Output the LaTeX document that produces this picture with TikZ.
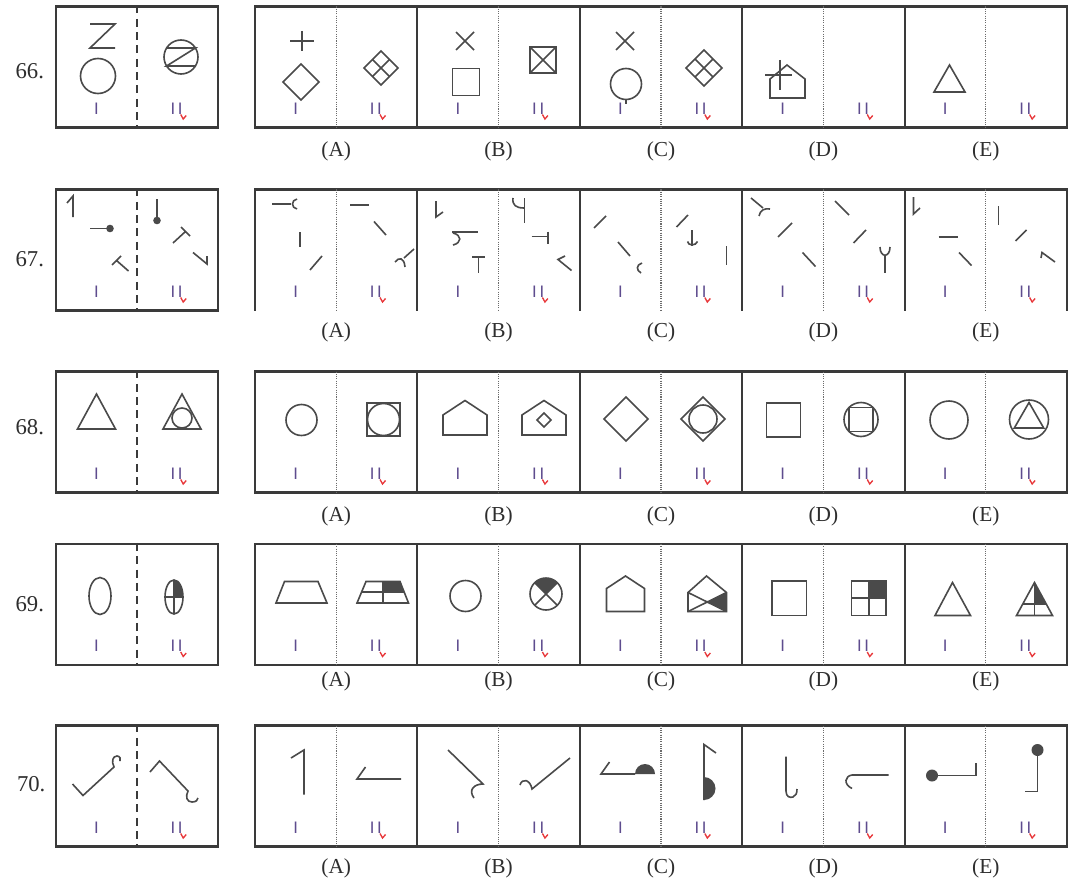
\documentclass[tikz,border=0pt]{standalone}
\usepackage{fontspec}
\setmainfont{Liberation Serif}
\setsansfont{Liberation Sans}
\usepackage{tikz}
\usetikzlibrary{positioning}
\definecolor{cFrame}{HTML}{3A3A3A}
\definecolor{cFig}{HTML}{4A4A4A}
\definecolor{cGray}{HTML}{6B6B6B}
\definecolor{cText}{HTML}{2E2E2E}
\definecolor{cLab}{HTML}{5E4C8E}
\definecolor{cRed}{HTML}{E8373A}
\tikzset{
  qbox/.style={
    rectangle, draw=cFrame, line width=1.6pt,
    minimum width=121.5pt, minimum height=90.75pt, inner sep=0pt
  },
  rowframe/.style={draw=cFrame, line width=1.6pt},
  divider/.style={draw=cGray, line width=0.8pt, dash pattern=on 0.8pt off 0.9pt},
  qdash/.style={draw=cFrame, line width=1.9pt, dash pattern=on 6pt off 4pt},
  fig/.style={draw=cFig, line width=1.2pt},
  numlabel/.style={font=\fontsize{17}{19}\selectfont, text=cText, inner sep=0pt},
  optlabel/.style={font=\fontsize{16}{18}\selectfont, text=cText, inner sep=0pt},
  labI/.style={font=\sffamily\fontsize{12.5}{13}\selectfont, text=cLab, inner sep=0pt},
  tick/.style={draw=cRed, line width=1pt},
}

\begin{document}
\begin{tikzpicture}[x=0.75pt, y=-0.75pt]
  \useasboundingbox[fill=white] (0,0) rectangle (1074,888);

  % Question boxes
  \node[qbox] (q66) at (137,67) {};
  \node[qbox] (q67) at (137,250) {};
  \node[qbox] (q68) at (137,432) {};
  \node[qbox] (q69) at (137,604.5) {};
  \node[qbox] (q70) at (137,786) {};
  \draw[qdash] (q66.north) -- (q66.south);
  \draw[qdash] (q67.north) -- (q67.south);
  \draw[qdash] (q68.north) -- (q68.south);
  \draw[qdash] (q69.north) -- (q69.south);
  \draw[qdash] (q70.north) -- (q70.south);

  % Question numbers
  \node[numlabel, left=8pt of q66, yshift=-3pt] (n66) {66.};
  \node[numlabel, left=8pt of q67, yshift=-6.5pt] (n67) {67.};
  \node[numlabel, left=8pt of q68, yshift=3.5pt] (n68) {68.};
  \node[numlabel, left=8pt of q69] (n69) {69.};
  \node[numlabel, left=7pt of q70, yshift=1.5pt] (n70) {70.};

  % Answer rows (row 67 is open at the bottom)
  \draw[rowframe] (255,6.5) rectangle (1067,127.5);
  \draw[rowframe] (255,310.5) -- (255,189.5) -- (1067,189.5) -- (1067,310.5);
  \draw[rowframe] (255,371.5) rectangle (1067,492.5);
  \draw[rowframe] (255,544) rectangle (1067,665);
  \draw[rowframe] (255,725.5) rectangle (1067,846.5);

  \foreach \r/\yt/\yb/\yl in {66/6.5/127.5/151, 67/189.5/310.5/332,
      68/371.5/492.5/516, 69/544/665/681.5, 70/725.5/846.5/868} {
    \foreach \x in {417.4,579.8,742.2,904.6}
      \draw[rowframe] (\x,\yt) -- (\x,\yb);
    \foreach \x in {336.2,498.6,661,823.4,985.8}
      \draw[divider] (\x,\yt) -- (\x,\yb);
    \foreach \l [count=\k] in {A,B,C,D,E}
      \node[optlabel] (opt\r\l) at ({336.2+162.4*(\k-1)},\yl) {(\l)};
    % I / II marks
    \node[labI] (i\r-q) at (96.5,\yb-19) {I};
    \node[labI] (ii\r-q) at (176.5,\yb-19) {I\kern2pt I};
    \draw[tick] ([xshift=-1.5pt]ii\r-q.south east) -- ++(2.5,4.5) -- ++(3,-3.5);
    \foreach \l [count=\k] in {A,B,C,D,E} {
      \node[labI] (i\r\l) at ({295.6+162.4*(\k-1)},\yb-19) {I};
      \node[labI] (ii\r\l) at ({375.8+162.4*(\k-1)},\yb-19) {I\kern2pt I};
      \draw[tick] ([xshift=-1.5pt]ii\r\l.south east) -- ++(2.5,4.5) -- ++(3,-3.5);
    }
  }

  % ---- 66 ----
  \draw[fig] (90,24) -- (115,24) -- (90,48) -- (115,48);
  \draw[fig] (98,76) circle (17.5);
  \draw[fig] (181,57) circle (17);
  \draw[fig] (166.6,48) -- (195.4,48) -- (166.6,66) -- (195.4,66);
  % (A)
  \draw[fig] (290,41) -- (314,41) (302,31) -- (302,51);
  \draw[fig] (301,64) -- (319,82) -- (301,100) -- (283,82) -- cycle;
  \draw[fig] (381,51) -- (398,68) -- (381,85) -- (364,68) -- cycle;
  \draw[fig] (372.5,59.5) -- (389.5,76.5) (389.5,59.5) -- (372.5,76.5);
  % (B)
  \draw[fig] (456,32) -- (474,50) (474,32) -- (456,50);
  \draw[fig] (452.5,68.5) rectangle (479.5,95.5);
  \draw[fig] (530,47) rectangle (556,73);
  \draw[fig] (530,47) -- (556,73) (556,47) -- (530,73);
  % (C)
  \draw[fig] (616,32) -- (634,50) (634,32) -- (616,50);
  \draw[fig] (626,84) circle (15.5);
  \draw[fig] (626,99.5) -- (626,104);
  \draw[fig] (704,50) -- (722,68) -- (704,86) -- (686,68) -- cycle;
  \draw[fig] (695,59) -- (713,77) (713,59) -- (695,77);
  % (D)
  \draw[fig] (770,98) -- (770,79) -- (787,65) -- (805,79) -- (805,98) -- cycle;
  \draw[fig] (765,75) -- (792,75) (780,60) -- (780,90);
  % (E)
  \draw[fig] (949.5,65) -- (965,92) -- (934,92) -- cycle;

  % ---- 67 ----
  \draw[fig] (67,203) -- (73,196) -- (73,217);
  \draw[fig] (90,228.5) -- (110,228.5);
  \fill[cFig] (110,228.5) circle (3.8);
  \draw[fig] (112,265) -- (121,256) (116.5,260.5) -- (128.5,271);
  \draw[fig] (157,199) -- (157,220.5);
  \fill[cFig] (157,220.5) circle (3.8);
  \draw[fig] (181,227) -- (190,236) (185.5,231.5) -- (173,243);
  \draw[fig] (193,252.5) -- (207,264) -- (207,256);
  % (A)
  \draw[fig] (272,204) -- (291,204);
  \draw[fig] (297,199) .. controls (291,200) and (291,208) .. (297,209);
  \draw[fig] (300,232) -- (300,247);
  \draw[fig] (310,270) -- (322,256);
  \draw[fig] (350,205) -- (369,205);
  \draw[fig] (374,221.5) -- (386,235);
  \draw[fig] (414,249) -- (404,258);
  \draw[fig] (395,262) .. controls (399,257) and (404,257) .. (405,267);
  % (B)
  \draw[fig] (436,201) -- (436,217) -- (443,212);
  \draw[fig] (452,232) -- (478,232);
  \draw[fig] (453,233) .. controls (462,235) and (462,243) .. (453,245);
  \draw[fig] (472,257) -- (485,257) (478.5,257) -- (478.5,273);
  \draw[fig] (513,198) .. controls (512,205) and (516,208) .. (524,208);
  \draw[fig] (524.5,198) -- (524.5,223);
  \draw[fig] (531.5,236.5) -- (548,236.5) (548,231.5) -- (548,243.5);
  \draw[fig] (565,256) -- (558,259.5) -- (571.5,270.5);
  % (C)
  \draw[fig] (594,228) -- (606,216);
  \draw[fig] (618,242) -- (630,256);
  \draw[fig] (642,263) .. controls (636,265) and (636,270) .. (641,273);
  \draw[fig] (676.5,227) -- (688,215);
  \draw[fig] (692,230) -- (692,246);
  \draw[fig] (687.5,241.5) .. controls (688,246) and (696,246) .. (697.5,241.5);
  \draw[fig] (726.5,246) -- (726.5,265);
  % (D)
  \draw[fig] (751,198) -- (763,208);
  \draw[fig] (759,216) .. controls (760,210) and (765,208) .. (770,209);
  \draw[fig] (778,237) -- (792,223);
  \draw[fig] (802.5,252.5) -- (815.5,266.5);
  \draw[fig] (835,201) -- (849,215);
  \draw[fig] (853.5,243) -- (866,230);
  \draw[fig] (880,247) .. controls (880,258) and (890,258) .. (890,247);
  \draw[fig] (885,256) -- (885,273);
  % (E)
  \draw[fig] (913.5,197) -- (913.5,214) -- (920,208);
  \draw[fig] (938.5,237) -- (958,237);
  \draw[fig] (959,252.5) -- (971.5,265.5);
  \draw[fig] (998.5,206) -- (998.5,225);
  \draw[fig] (1015.5,241) -- (1026.5,230);
  \draw[fig] (1041,258) -- (1042,252.5) -- (1055,262);

  % ---- 68 ----
  \draw[fig] (96.5,394) -- (115.5,429) -- (77.5,429) -- cycle;
  \draw[fig] (182,394) -- (201,429) -- (163,429) -- cycle;
  \draw[fig] (182,418) circle (10);
  % (A)
  \draw[fig] (301.5,420) circle (15.5);
  \draw[fig] (367,403) rectangle (400,436);
  \draw[fig] (383.5,419.5) circle (16);
  % (B)
  \draw[fig] (443,435) -- (443,415) -- (465,400.5) -- (487,415) -- (487,435) -- cycle;
  \draw[fig] (522,435) -- (522,415) -- (544,400.5) -- (566,415) -- (566,435) -- cycle;
  \draw[fig] (544,413) -- (551,420) -- (544,427) -- (537,420) -- cycle;
  % (C)
  \draw[fig] (626,397) -- (648,419) -- (626,441) -- (604,419) -- cycle;
  \draw[fig] (703,397) -- (725,419) -- (703,441) -- (681,419) -- cycle;
  \draw[fig] (703,419) circle (14);
  % (D)
  \draw[fig] (766.5,403) rectangle (800.5,437);
  \draw[fig] (861,419.5) circle (17);
  \draw[fig] (849,407.5) rectangle (873,431.5);
  % (E)
  \draw[fig] (949,420) circle (19);
  \draw[fig] (1029,419.5) circle (19.5);
  \draw[fig] (1029,402.5) -- (1043.7,428) -- (1014.3,428) -- cycle;

  % ---- 69 ----
  \draw[fig] (100,596) ellipse (11 and 18.5);
  \fill[cFig] (174,597) -- (183,597) arc[start angle=0, end angle=-90, x radius=9, y radius=17] -- cycle;
  \draw[fig] (174,597) ellipse (9 and 17);
  \draw[fig] (165,597) -- (183,597) (174,580) -- (174,614);
  % (A)
  \draw[fig] (284.5,581.5) -- (318,581.5) -- (327,603) -- (276,603) -- cycle;
  \fill[cFig] (383,581.5) -- (400,581.5) -- (404.25,592.25) -- (383,592.25) -- cycle;
  \draw[fig] (366,581.5) -- (400,581.5) -- (408.5,603) -- (357,603) -- cycle;
  \draw[fig] (383,581.5) -- (383,603) (361.5,592.25) -- (404.25,592.25);
  % (B)
  \draw[fig] (465.5,596) circle (15.5);
  \fill[cFig] (546,594) -- ++(-11.3,-11.3) arc[start angle=-135, end angle=-45, radius=16] -- cycle;
  \draw[fig] (546,594) circle (16);
  \draw[fig] (534.7,582.7) -- (557.3,605.3) (557.3,582.7) -- (534.7,605.3);
  % (C)
  \draw[fig] (606.5,611.5) -- (606.5,588.5) -- (625.5,576) -- (644.5,588.5) -- (644.5,611.5) -- cycle;
  \fill[cFig] (707.25,602) -- (726.5,592.5) -- (726.5,611.5) -- cycle;
  \draw[fig] (688,611.5) -- (688,592.5) -- (706.5,576) -- (726.5,592.5) -- (726.5,611.5) -- cycle;
  \draw[fig] (688,592.5) -- (726.5,611.5) (688,611.5) -- (726.5,592.5);
  % (D)
  \draw[fig] (772,581) rectangle (806.5,615.5);
  \fill[cFig] (868.75,581) rectangle (886,598.25);
  \draw[fig] (851.5,581) rectangle (886,615.5);
  \draw[fig] (868.75,581) -- (868.75,615.5) (851.5,598.25) -- (886,598.25);
  % (E)
  \draw[fig] (952.5,582.5) -- (970.5,615.5) -- (935,615.5) -- cycle;
  \fill[cFig] (1034.5,582.5) -- (1046.2,604) -- (1034.5,604) -- cycle;
  \draw[fig] (1034.5,582.5) -- (1052.5,615.5) -- (1016.5,615.5) -- cycle;
  \draw[fig] (1034.5,582.5) -- (1034.5,615.5) (1022.8,604) -- (1046.2,604);

  % ---- 70 ----
  \draw[fig] (72.5,784) -- (83,795.5) -- (114,767)
    .. controls (111,761) and (113,756) .. (117,756)
    .. controls (120,756) and (121,759) .. (120,761);
  \draw[fig] (150,772) -- (159.5,761) -- (188,791)
    .. controls (185,797) and (187,802) .. (192,802)
    .. controls (196,802) and (198,800) .. (198,798);
  % (A)
  \draw[fig] (291,758) -- (304,750) -- (304,794.5);
  \draw[fig] (365.5,767) -- (357,779) -- (401,779);
  % (B)
  \draw[fig] (448,750) -- (483,784) .. controls (474,784) and (468,790) .. (474,798);
  \draw[fig] (570,758) -- (532,789) .. controls (530,779) and (522,778) .. (520,785);
  % (C)
  \draw[fig] (609.5,762) -- (601,774) -- (635,774);
  \fill[cFig] (635,774) arc[start angle=-180, end angle=0, radius=10] -- cycle;
  \draw[fig] (716,753) -- (704,744.5) -- (704,800);
  \fill[cFig] (704,777) arc[start angle=-90, end angle=90, radius=11.5] -- cycle;
  % (D)
  \draw[fig] (786,756.5) -- (786,791)
    .. controls (786,797) and (790,798) .. (793,797)
    .. controls (796,796) and (797,793) .. (797,789);
  \draw[fig] (888.5,775) -- (852,775) .. controls (845,776) and (843,784) .. (852,788.5);
  % (E)
  \draw[fig] (932,775.5) -- (976,775.5) -- (976,763);
  \fill[cFig] (932,775.5) circle (6);
  \draw[fig] (1037.5,750) -- (1037.5,791.5) -- (1025,791.5);
  \fill[cFig] (1037.5,750) circle (6);

\end{tikzpicture}
\end{document}
